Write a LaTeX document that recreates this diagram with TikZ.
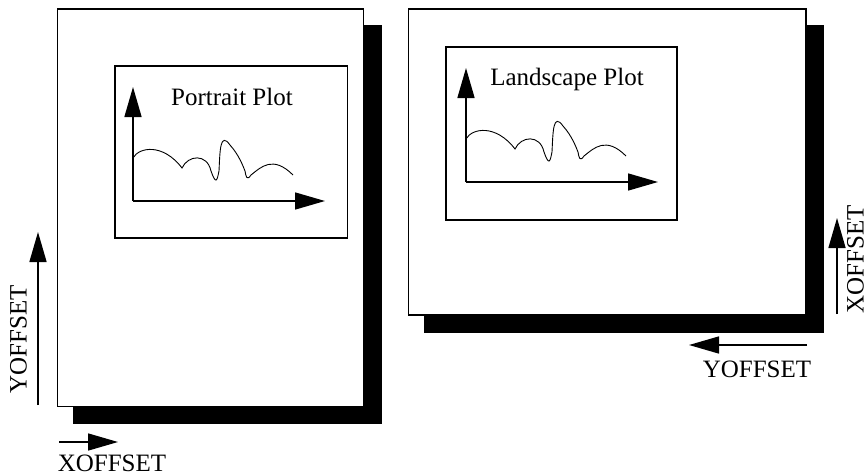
\documentclass[tikz,border=0pt]{standalone}
\usepackage{fontspec}
\setmainfont{Liberation Serif}
\usetikzlibrary{arrows.meta}
\begin{document}
\begin{tikzpicture}[x=1pt,y=-1pt,
  page/.style={draw=black,fill=white,line width=1.4pt},
  shadowbox/.style={fill=black,draw=none},
  plotbox/.style={draw=black,line width=1.4pt},
  bigarrow/.style={line width=1.5pt,-{Triangle[length=30pt,width=17pt]}},
  lbl/.style={font=\fontsize{25}{28}\selectfont,inner sep=0pt},
  curve/.style={line width=0.9pt},
  plotpic/.pic={
    \coordinate (-o) at (0,0);
    \coordinate (-yt) at (0,-114);
    \coordinate (-xt) at (192,0);
    \draw[bigarrow] (-o) -- (-yt);
    \draw[bigarrow] (-o) -- (-xt);
    \draw[curve] (0,-43) .. controls (6,-54) and (30,-58) .. (49,-33)
       .. controls (55,-46) and (74,-48) .. (78,-30)
       .. controls (83,-16) and (84,-20) .. (86,-30)
       .. controls (87,-50) and (87,-70) .. (97,-56)
       .. controls (106,-46) and (110,-35) .. (112,-30)
       .. controls (113,-24) and (114,-20) .. (118,-26)
       .. controls (128,-34) and (140,-46) .. (160,-26);
  }]
\useasboundingbox (0,0) rectangle (867,474);
% left page
\fill[shadowbox] (73,25) rectangle (382,424);
\draw[page] (57.5,9) rectangle (363.5,406.5);
\draw[plotbox] (115,66) rectangle (347.5,238);
\node[lbl,anchor=base] (ptext) at (232,105) {Portrait Plot};
\pic (pp) at (133,201) {plotpic};
% right page
\fill[shadowbox] (424,25) rectangle (824,333);
\draw[page] (408.5,9) rectangle (806,315);
\draw[plotbox] (446,47) rectangle (677,220);
\node[lbl,anchor=base] (ltext) at (567,85) {Landscape Plot};
\pic (lp) at (466,182) {plotpic};
% offset arrows left
\coordinate (ly0) at (38,405);
\coordinate (ly1) at (38,232);
\draw[bigarrow] (ly0) -- (ly1);
\node[lbl,rotate=90] (lyt) at (18.5,339) {YOFFSET};
\coordinate (lx0) at (59,442);
\coordinate (lx1) at (118,442);
\draw[bigarrow] (lx0) -- (lx1);
\node[lbl] (lxt) at (112,463) {XOFFSET};
% offset arrows right
\coordinate (rx0) at (837,314);
\coordinate (rx1) at (837,218);
\draw[bigarrow] (rx0) -- (rx1);
\node[lbl,rotate=90] (rxt) at (855.5,259) {XOFFSET};
\coordinate (ry0) at (807,345);
\coordinate (ry1) at (689,345);
\draw[bigarrow] (ry0) -- (ry1);
\node[lbl] (ryt) at (757,369) {YOFFSET};
\end{tikzpicture}
\end{document}
